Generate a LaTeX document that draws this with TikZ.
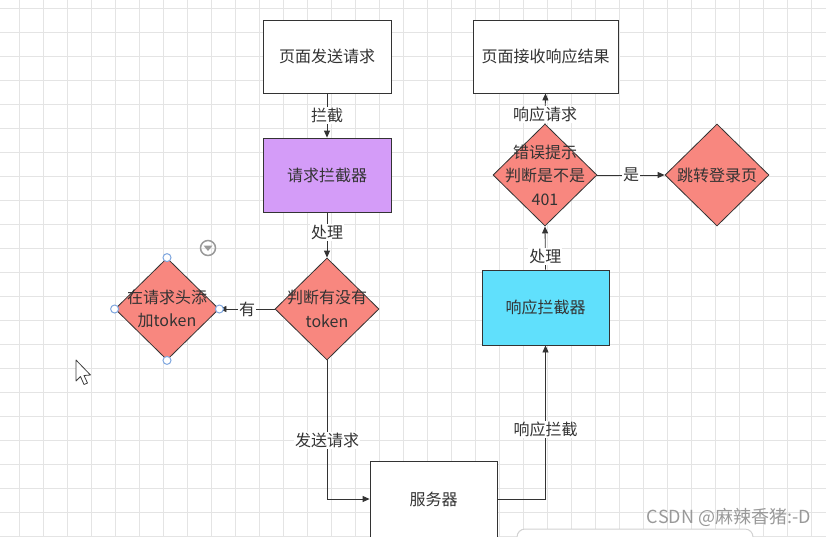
\documentclass[tikz,border=0pt]{standalone}
\usepackage{fontspec}
\setmainfont{Noto Sans CJK SC}
\usetikzlibrary{shapes.geometric,arrows.meta}
\definecolor{gridc}{HTML}{E4E4E4}
\definecolor{linec}{HTML}{333333}
\definecolor{txtc}{HTML}{333333}
\definecolor{purp}{HTML}{D49CF8}
\definecolor{cyanc}{HTML}{60E0FC}
\definecolor{salm}{HTML}{F8877F}
\definecolor{handle}{HTML}{7FA7DF}
\tikzset{
  base/.style={draw=linec, line width=0.8pt, text=txtc, font=\fontsize{16}{24}\selectfont, align=center, inner sep=0pt},
  box/.style={base, rectangle, fill=white},
  dia/.style={base, diamond, minimum width=104pt, minimum height=102pt, fill=salm},
  dtext/.style={text=txtc, font=\fontsize{16}{23.5}\selectfont, align=center, inner sep=0pt},
  conn/.style={draw=linec, line width=0.8pt, -{Triangle[length=7pt,width=6pt]}},
  lab/.style={fill=white, text=txtc, font=\fontsize{16}{24}\selectfont, inner sep=1pt},
  hdl/.style={circle, draw=handle, fill=white, line width=1pt, minimum size=8pt, inner sep=0pt},
}
\begin{document}
\begin{tikzpicture}[x=1pt,y=-1pt]
\useasboundingbox (0,0) rectangle (826,536);
\fill[white] (0,0) rectangle (826,536);
% grid
\foreach \i in {0,...,34} { \draw[gridc, line width=0.7pt] (19+24*\i,0) -- (19+24*\i,536); }
\foreach \j in {0,...,22} { \draw[gridc, line width=0.7pt] (0,8+24*\j) -- (826,8+24*\j); }

% nodes
\node[box, minimum width=128pt, minimum height=73pt] (send) at (327,56.5) {页面发送请求};
\node[box, fill=purp, minimum width=128pt, minimum height=74pt] (reqi) at (327,175) {请求拦截器};
\node[dia] (chk) at (327,309) {};
\node[dtext] (chkT) at (327,309) {判断有没有\\token};
\node[dia] (add) at (167,309) {};
\node[dtext] (addT) at (167,309) {在请求头添\\加token};
\node[box, minimum width=127pt, minimum height=76pt] (srv) at (433.5,499) {服务器};
\node[box, fill=cyanc, minimum width=127pt, minimum height=75pt] (resi) at (545.5,307.5) {响应拦截器};
\node[dia] (e401) at (545,175) {};
\node[dtext] (e401T) at (545,175) {错误提示\\判断是不是\\401};
\node[box, minimum width=145pt, minimum height=73pt] (recv) at (545.5,56.5) {页面接收响应结果};
\node[dia] (login) at (717,175) {};
\node[dtext] (loginT) at (717,175) {跳转登录页};

% connectors
\draw[conn] (send.south) -- node[lab, pos=0.5] {拦截} (reqi.north);
\draw[conn] (reqi.south) -- node[lab, pos=0.45] {处理} (chk.north);
\draw[conn] (chk.west) -- node[lab] {有} (add.east);
\draw[conn] (chk.south) |- node[lab, pos=0.29] {发送请求} (srv.west);
\draw[conn] (srv.east) -| node[lab, pos=0.725] {响应拦截} (resi.south);
\draw[conn] (resi.north) -- node[lab, pos=0.3] {处理} (e401.south);
\draw[conn] (e401.north) -- node[lab, pos=0.3] {响应请求} (recv.south);
\draw[conn] (e401.east) -- node[lab] {是} (login.west);

% selection handles
\node[hdl] (h1) at (add.north) {};
\node[hdl] (h2) at (add.east) {};
\node[hdl] (h3) at (add.south) {};
\node[hdl] (h4) at (add.west) {};

% dropdown icon
\node[circle, draw=gray!80, line width=1.5pt, minimum size=15pt, inner sep=0pt] (dd) at (208,248) {};
\fill[gray!80] (203.5,245.5) -- (212.5,245.5) -- (208,251) -- cycle;

% mouse cursor
\draw[black!75, fill=white, line width=0.8pt, line join=round]
  (76,360) -- (76,381) -- (80.5,376.5) -- (84,384.5) -- (87.5,383) -- (84,375.5) -- (90.5,375) -- cycle;

% bottom panel
\draw[gray!35, fill=white, line width=1pt, rounded corners=8pt] (517,560) -- (517,529) -- (753,529) -- (753,560);

% watermark
\node[text=gray!80, font=\fontsize{18}{20}\selectfont, anchor=east, inner sep=0pt] (wm) at (811,517) {CSDN @麻辣香猪:-D};
\end{tikzpicture}
\end{document}
